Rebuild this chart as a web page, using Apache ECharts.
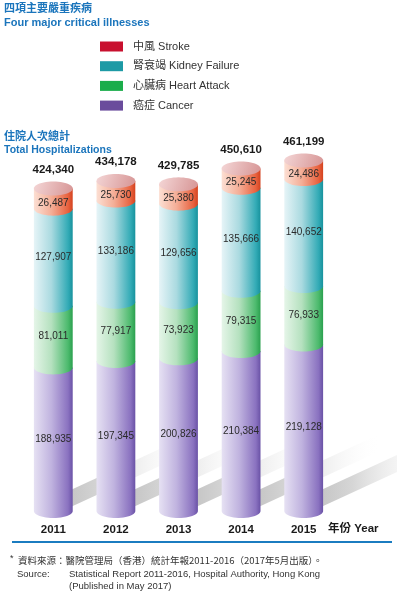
<!DOCTYPE html>
<html>
<head>
<meta charset="utf-8">
<script src="https://cdn.jsdelivr.net/npm/echarts@6/dist/echarts.min.js"></script>
<style>
  html, body { margin: 0; padding: 0; background: #fff; }
  #chart { width: 397px; height: 594px; }
</style>
</head>
<body>
<div id="chart"></div>
<script>
// values
const years = ["2011", "2012", "2013", "2014", "2015"];
const totals = [424340, 434178, 429785, 450610, 461199];
const cancer = [188935, 197345, 200826, 210384, 219128];
const heart = [81011, 77917, 73923, 79315, 76933];
const kidney = [127907, 133186, 129656, 135666, 140652];
const stroke = [26487, 25730, 25380, 25245, 24486];

const seriesNames = ["癌症 Cancer", "心臟病 Heart Attack", "腎衰竭 Kidney Failure", "中風 Stroke"];
const legendColors = ["#6a4c9c", "#1bad4b", "#1d9aa5", "#c8102e"];
const layers = [cancer, heart, kidney, stroke];

const FONT = "'Liberation Sans', Arial, 'Noto Sans CJK TC', sans-serif";
const CJK = "'Noto Sans CJK TC', 'Liberation Sans', sans-serif";

const segStops = [
    ["#e6e1f3", "#c0b3df", "#8a72c0", "#6a52a6"],
    ["#e5f5e8", "#b5e1bf", "#4cba6d", "#2aa04e"],
    ["#e6f4f7", "#aadae0", "#33abb6", "#17929d"],
    ["#fcdfd3", "#f4ae97", "#e8623f", "#d4421f"],
];

function grad(k) {
    const s = segStops[k];
    return new echarts.graphic.LinearGradient(0, 0, 1, 0, [
        { offset: 0, color: s[0] },
        { offset: 0.45, color: s[1] },
        { offset: 0.88, color: s[2] },
        { offset: 1, color: s[3] },
    ]);
}

function fmt(v) {
    return v.toLocaleString("en-US");
}

function stackData(k) {
    return years.map((y, i) => {
        let base = 0;
        for (let j = 0; j < k; j++) base += layers[j][i];
        return [i, base, base + layers[k][i], layers[k][i]];
    });
}

function ellipsePts(cx, cy, rx, ry) {
    const pts = [];
    for (let s = 0; s < 48; s++) {
        const t = (Math.PI * 2 * s) / 48;
        pts.push([cx + rx * Math.cos(t), cy + ry * Math.sin(t)]);
    }
    return pts;
}

const RY = 7;

function makeRender(k) {
    return function (params, api) {
        const i = api.value(0);
        const p0 = api.coord([i, api.value(1)]);
        const p1 = api.coord([i, api.value(2)]);
        const rx = api.size([1, 0])[0] * 0.31;
        const cx = p0[0], yB = p0[1], yT = p1[1];
        const pts = [[cx - rx, yT], [cx - rx, yB]];
        for (let s = 1; s < 24; s++) {
            const t = Math.PI - (Math.PI * s) / 24;
            pts.push([cx + rx * Math.cos(t), yB + RY * Math.sin(t)]);
        }
        pts.push([cx + rx, yB], [cx + rx, yT]);
        const children = [{ type: "polygon", shape: { points: pts }, style: { fill: grad(k) } }];
        let labelY = (yT + yB) / 2;
        if (k === 3) {
            children.push({
                type: "polygon",
                shape: { points: ellipsePts(cx, yT, rx, RY) },
                style: {
                    fill: new echarts.graphic.LinearGradient(0, 0, 1, 1, [
                        { offset: 0, color: "#f4d6d6" },
                        { offset: 1, color: "#d69494" },
                    ]),
                },
            });
            labelY = (yT + RY + yB + 2) / 2;
            children.push({
                type: "text",
                style: {
                    text: fmt(totals[i]), x: cx, y: yT - 19,
                    font: "bold 11.5px " + FONT, fill: "#1a1a1a",
                    align: "center", verticalAlign: "middle",
                    textAlign: "center", textVerticalAlign: "middle",
                },
            });
        }
        children.push({
            type: "text",
            style: {
                text: fmt(api.value(3)), x: cx, y: labelY,
                font: "10px " + FONT, fill: "#2a2a2a",
                align: "center", verticalAlign: "middle",
                textAlign: "center", textVerticalAlign: "middle",
            },
        });
        return { type: "group", children: children };
    };
}

function renderShadow(params, api) {
    const i = api.value(0);
    const p = api.coord([i, 0]);
    const cx = p[0], y0 = p[1];
    const L = 140, sl = 0.46;
    return {
        type: "polygon",
        shape: {
            points: [
                [cx, y0 + 4],
                [cx + L, y0 + 4 - L * sl],
                [cx + L, y0 - 13 - L * sl],
                [cx, y0 - 13],
            ],
        },
        style: {
            fill: new echarts.graphic.LinearGradient(0, 0, 1, 0, [
                { offset: 0, color: "#bdbdbd" },
                { offset: 0.35, color: "#d6d6d6" },
                { offset: 1, color: "rgba(255,255,255,0)" },
            ]),
        },
    };
}

const series = [{
    type: "custom",
    name: "shadow",
    z: 1,
    silent: true,
    renderItem: renderShadow,
    data: years.map((y, i) => [i, 0]),
}];
layers.forEach((arr, k) => {
    series.push({
        type: "custom",
        name: seriesNames[k],
        z: 2,
        itemStyle: { color: legendColors[k] },
        renderItem: makeRender(k),
        encode: { x: 0, y: [1, 2] },
        data: stackData(k),
    });
});

const chart = echarts.init(document.getElementById("chart"), null, { renderer: "canvas" });
chart.setOption({
    animation: false,
    backgroundColor: "#fff",
    grid: { left: 22, right: 62, top: 55, bottom: 83 },
    xAxis: {
        type: "category",
        data: years,
        axisLine: { show: false },
        axisTick: { show: false },
        axisLabel: { margin: 13, fontSize: 11.5, fontWeight: "bold", color: "#1a1a1a", fontFamily: FONT },
    },
    yAxis: {
        type: "value",
        min: 0,
        max: 600000,
        show: false,
    },
    legend: {
        orient: "vertical",
        left: 100,
        top: 41,
        icon: "rect",
        itemWidth: 23,
        itemHeight: 10,
        itemGap: 8.7,
        padding: 0,
        data: ["中風 Stroke", "腎衰竭 Kidney Failure", "心臟病 Heart Attack", "癌症 Cancer"],
        textStyle: { fontSize: 11, color: "#333", fontFamily: FONT, padding: [0, 0, 0, 5] },
    },
    series: series,
    graphic: [
        { type: "text", x: 4, y: 2, style: { text: "四項主要嚴重疾病", font: "bold 11px " + CJK, fill: "#1b75bc" } },
        { type: "text", x: 4, y: 17, style: { text: "Four major critical illnesses", font: "bold 11px " + FONT, fill: "#1b75bc" } },
        { type: "text", x: 4, y: 130, style: { text: "住院人次總計", font: "bold 11px " + CJK, fill: "#1b75bc" } },
        { type: "text", x: 4, y: 145, style: { text: "Total Hospitalizations", font: "bold 10.5px " + FONT, fill: "#1b75bc" } },
        { type: "text", x: 328, y: 523, style: { text: "年份 Year", font: "bold 11.5px " + FONT, fill: "#1a1a1a" } },
        { type: "line", shape: { x1: 12, y1: 542, x2: 392, y2: 542 }, style: { stroke: "#1b7cc0", lineWidth: 2 } },
        { type: "text", x: 10, y: 554, style: { text: "*", font: "9px " + FONT, fill: "#333" } },
        { type: "text", x: 18, y: 556, style: { text: "資料來源：醫院管理局（香港）統計年報2011-2016（2017年5月出版）。", font: "9.5px " + CJK, fill: "#333" } },
        { type: "text", x: 17, y: 570, style: { text: "Source:", font: "9.5px " + FONT, fill: "#333" } },
        { type: "text", x: 69, y: 570, style: { text: "Statistical Report 2011-2016, Hospital Authority, Hong Kong", font: "9.5px " + FONT, fill: "#333" } },
        { type: "text", x: 69, y: 582, style: { text: "(Published in May 2017)", font: "9.5px " + FONT, fill: "#333" } },
    ],
});
</script>
</body>
</html>
